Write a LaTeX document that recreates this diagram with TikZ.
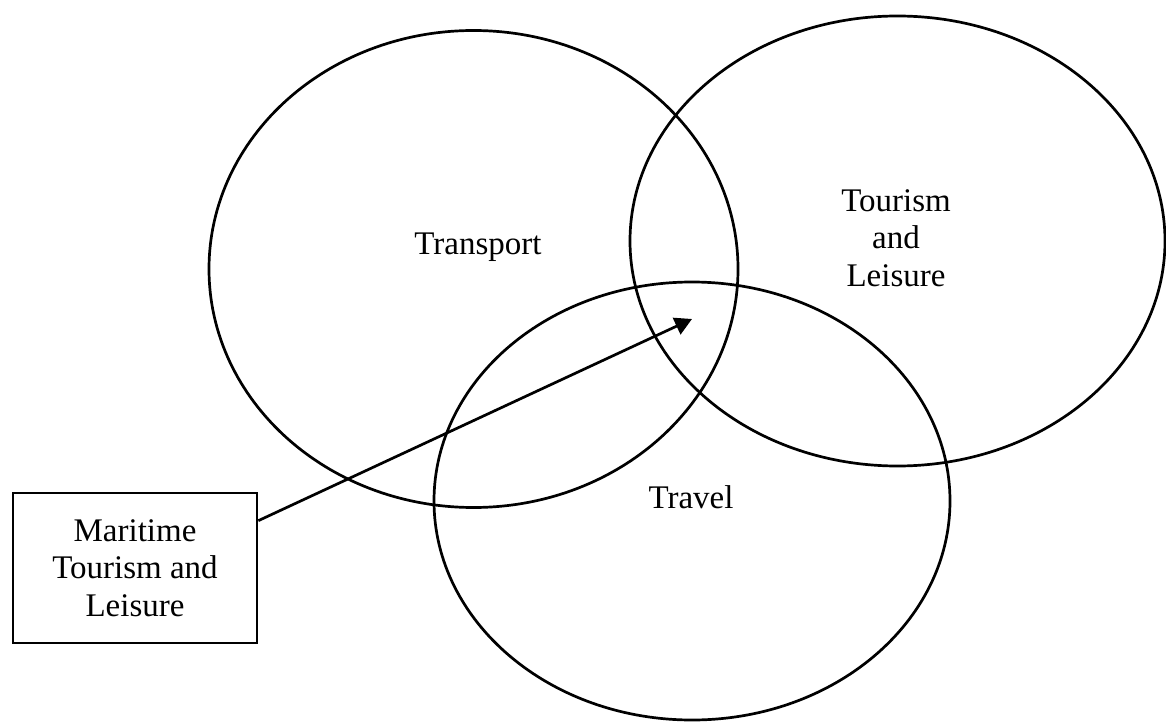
\documentclass[tikz,border=0pt]{standalone}
\usepackage{fontspec}
\setmainfont{Liberation Serif}
\usetikzlibrary{shapes.geometric,arrows.meta,calc}
\begin{document}
\begin{tikzpicture}[x=1pt,y=1pt,
  set/.style={ellipse,draw,line width=2.7pt,inner sep=0pt},
  lbl/.style={font=\fontsize{33pt}{37.5pt}\selectfont,align=center},
  infobox/.style={draw,line width=2.7pt,minimum width=244pt,minimum height=150pt,
    inner sep=0pt,font=\fontsize{33pt}{37.5pt}\selectfont,align=center},
  pointer/.style={line width=2.7pt,-{Triangle[length=17pt,width=18pt]}}]
  \useasboundingbox (0,0) rectangle (1166,724);
  % the three overlapping sets
  \node[set,minimum width=529pt,minimum height=477pt] (transport) at (473.5,455) {};
  \node[set,minimum width=535pt,minimum height=450pt] (tourism) at (897.5,483) {};
  \node[set,minimum width=516pt,minimum height=438pt] (travel) at (692,223) {};
  % set names
  \node[lbl] (ltransport) at (478,477) {Transport};
  \node[lbl] (ltourism) at (896,486) {Tourism\\and\\Leisure};
  \node[lbl] (ltravel) at (691,227) {Travel};
  % the common area and its label
  \coordinate (core) at (692,405);
  \node[infobox] (maritime) at (135,156) {Maritime\\Tourism and\\Leisure};
  \draw[pointer] ($(maritime.north east)!0.19!(maritime.south east)$) -- (core);
\end{tikzpicture}
\end{document}
